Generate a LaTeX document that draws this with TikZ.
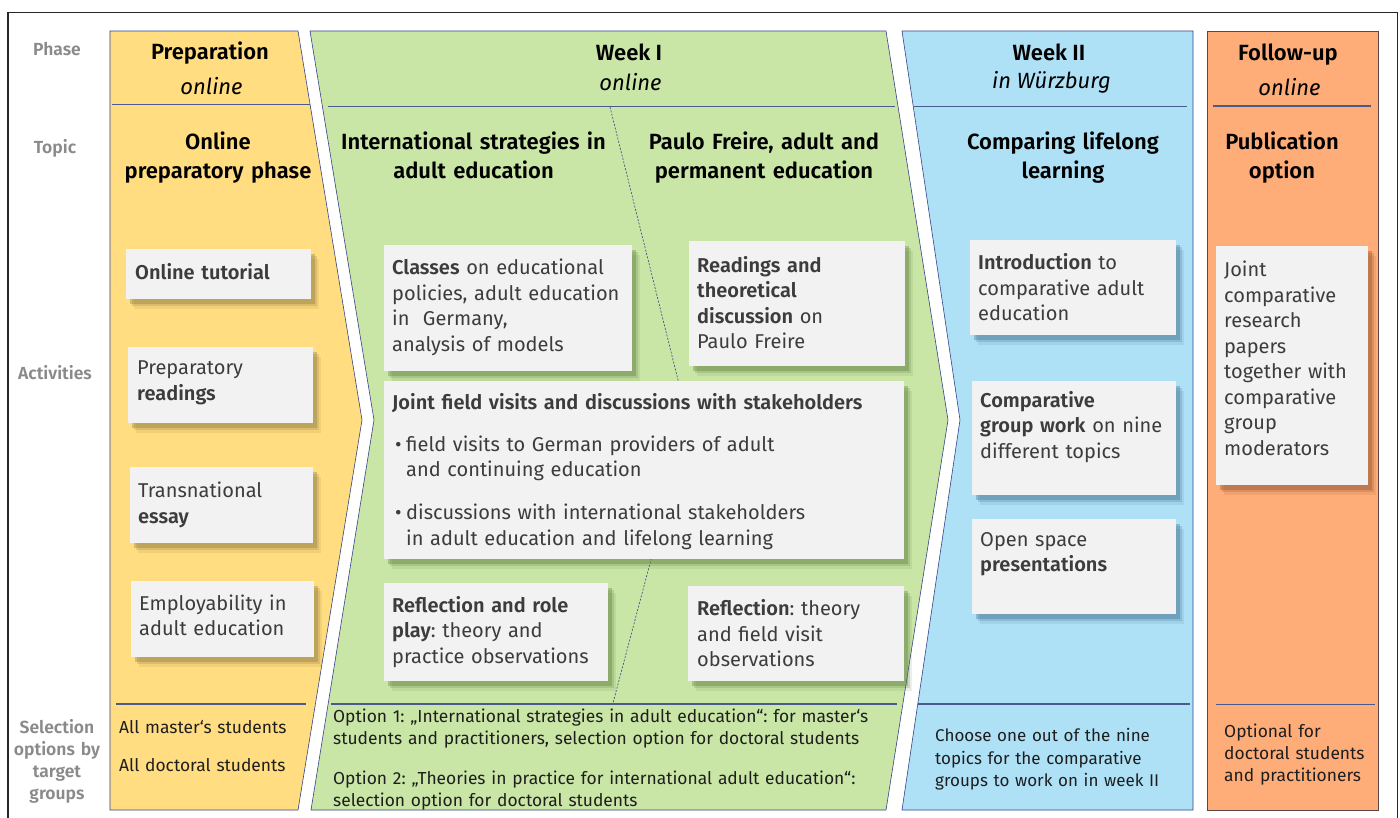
\documentclass[tikz,border=0pt]{standalone}
\usepackage{fontspec}
\IfFontExistsTF{Fira Sans SemiBold}{%
  \setmainfont{Fira Sans}[BoldFont={Fira Sans SemiBold}]
}{%
  \setmainfont{Fira Sans}
}
\frenchspacing
\definecolor{cyel}{HTML}{FFDD80}
\definecolor{cgrn}{HTML}{C9E6A6}
\definecolor{cblu}{HTML}{AEE1F6}
\definecolor{cora}{HTML}{FFAD78}
\definecolor{syel}{HTML}{8C7640}
\definecolor{sgrn}{HTML}{5F8040}
\definecolor{sblu}{HTML}{3F6F8F}
\definecolor{sora}{HTML}{90502A}
\definecolor{boxg}{HTML}{F2F2F2}
\definecolor{edge}{HTML}{34438A}
\definecolor{sepc}{HTML}{4A5A8C}
\definecolor{oedge}{HTML}{5A4646}
\definecolor{txtg}{HTML}{3C3C3C}
\definecolor{lblg}{HTML}{8A8A8A}
\definecolor{seltxt}{HTML}{1E1E1E}
\begin{document}
\frenchspacing
\begin{tikzpicture}[x=1pt,y=-1pt,
  colshape/.style={draw=edge, line width=0.6pt},
  sepline/.style={draw=sepc, line width=1.4pt},
  dline/.style={draw=edge, line width=0.6pt, dash pattern=on 2pt off 1.5pt},
  frame/.style={draw=black!85, line width=1.4pt},
  box/.style={fill=boxg, inner sep=0pt, anchor=north west,
    preaction={fill=#1, opacity=.12, transform canvas={shift={(8,10)}}},
    preaction={fill=#1, opacity=.22, transform canvas={shift={(6,7)}}},
    preaction={fill=#1, opacity=.35, transform canvas={shift={(4,4.5)}}}},
  btxt/.style={anchor=base west, inner sep=0pt, text width=#1, align=left, text=txtg,
    font=\frenchspacing\fontsize{20}{25.5}\selectfont},
  lbl/.style={anchor=base, inner sep=0pt, text=lblg, font=\bfseries\fontsize{17.5}{22}\selectfont,
    text width=95, align=center},
  hd/.style={anchor=base, inner sep=0pt, font=\bfseries\fontsize{22}{29}\selectfont, text=black},
  sub/.style={anchor=base, inner sep=0pt, font=\itshape\fontsize{22}{29}\selectfont, text=black},
  topic/.style={anchor=base, inner sep=0pt, text width=#1, align=center,
    font=\bfseries\fontsize{22}{29}\selectfont, text=black},
  sel/.style={anchor=base west, inner sep=0pt, text width=#1, align=left, text=seltxt,
    font=\frenchspacing\fontsize{17.4}{22.3}\selectfont},
  bsel/.style={anchor=base west, inner sep=0pt, text width=#1, align=left, text=seltxt,
    font=\frenchspacing\fontsize{17}{22.3}\selectfont}
]
\useasboundingbox (0,0) rectangle (1400,817);
\fill[white] (0,0) rectangle (1400,817);
\draw[frame] (8,840) -- (8,12.7) -- (1397.7,12.7) -- (1397.7,840);

% columns
\path[colshape, fill=cyel] (110,31) -- (298,31) -- (362,420) -- (298,810) -- (110,810) -- cycle;
\path[colshape, fill=cgrn] (310,31) -- (886,31) -- (948,420) -- (886,810) -- (311,810) -- (374,420) -- cycle;
\path[colshape, fill=cblu] (902,31) -- (1193,31) -- (1193,810) -- (902,810) -- (960,420) -- cycle;
\path[colshape, draw=oedge, fill=cora] (1207,31) rectangle (1378,810);

% separator lines
\draw[sepline] (112,104.3) -- (310,104.3);
\draw[sepline] (328,106.7) -- (895,106.7);
\draw[sepline] (914,106.7) -- (1187,106.7);
\draw[sepline] (1213,106) -- (1371,106);
\draw[sepline] (116,704) -- (306,704);
\draw[sepline] (331,704) -- (897,704);
\draw[sepline] (918,704) -- (1190,704);
\draw[sepline] (1216,704.3) -- (1375,704.3);

% dashed divider in week I
\coordinate (dv1) at (610,107);
\coordinate (dv2) at (688,420);
\coordinate (dv3) at (613,703);
\draw[dline] (dv1) -- (dv2) -- (dv3);

% row labels
\node[lbl] (lphase) at (57,55) {Phase};
\node[lbl] (ltopic) at (55,153) {Topic};
\node[lbl] (lact) at (55,379) {Activities};
\node[lbl] (lsel) at (57,733) {Selection\\options by\\target\\groups};

% phase headers
\node[hd] (hprep) at (210,59) {Preparation};
\node[sub] (sprep) at (211.5,94.5) {online};
\node[hd] (hw1) at (629,60) {Week I};
\node[sub] (sw1) at (630.5,90) {online};
\node[hd] (hw2) at (1049,60) {Week II};
\node[sub] (sw2) at (1051.5,88.5) {in Würzburg};
\node[hd] (hfu) at (1288,60) {Follow-up};
\node[sub] (sfu) at (1289.5,95.5) {online};

% topics
\node[topic=200] (tprep) at (218,149.5) {Online\\preparatory phase};
\node[topic=290] (tis) at (473.5,149.5) {International strategies in\\adult education};
\node[topic=260] (tpf) at (764,149.5) {Paulo Freire, adult and\\permanent education};
\node[topic=230] (tcl) at (1063,149.5) {Comparing lifelong\\learning};
\node[topic=160] (tpub) at (1282,149.5) {Publication\\option};

% preparation boxes
\node[box=syel, minimum width=185, minimum height=50] (b1) at (126,249) {};
\node[btxt=170] (t1) at (135,279) {\textbf{Online tutorial}};
\node[box=syel, minimum width=185, minimum height=76] (b2) at (128,347) {};
\node[btxt=170] (t2) at (137,374.5) {Preparatory\\\textbf{readings}};
\node[box=syel, minimum width=183, minimum height=76] (b3) at (130,467) {};
\node[btxt=170] (t3) at (138,497.5) {Transnational\\\textbf{essay}};
\node[box=syel, minimum width=183, minimum height=76] (b4) at (131,581) {};
\node[btxt=170] (t4) at (139,610) {Employability in\\adult education};

% week I boxes
\node[box=sgrn, minimum width=248, minimum height=126] (b5) at (384,245) {};
\node[btxt=235] (t5) at (392,274.5) {\textbf{Classes} on educational\\policies, adult education\\in\ \ Germany,\\analysis of models};
\node[box=sgrn, minimum width=216, minimum height=125] (b6) at (689,241) {};
\node[btxt=200] (t6) at (697,272) {\textbf{Readings and}\\\textbf{theoretical}\\\textbf{discussion} on\\Paulo Freire};
\node[box=sgrn, minimum width=520, minimum height=178] (b7) at (384,381) {};
\node[btxt=505] (t7) at (392,409) {\textbf{Joint field visits and discussions with stakeholders}\\[16.5pt]
\hspace*{3pt}\makebox[11pt][l]{•}field visits to German providers of adult\\
\hspace*{14pt}and continuing education\\[17.5pt]
\hspace*{3pt}\makebox[11pt][l]{•}discussions with international stakeholders\\
\hspace*{14pt}in adult education and lifelong learning};
\node[box=sgrn, minimum width=224, minimum height=98] (b8) at (384,583) {};
\node[btxt=215] (t8) at (392,612) {\textbf{Reflection and role}\\\textbf{play}: theory and\\practice observations};
\node[box=sgrn, minimum width=216, minimum height=95] (b9) at (688,586) {};
\node[btxt=200] (t9) at (697,615.5) {\textbf{Reflection}: theory\\and field visit\\observations};

% week II boxes
\node[box=sblu, minimum width=206, minimum height=95] (b10) at (970,240) {};
\node[btxt=195] (t10) at (978,269.5) {\textbf{Introduction} to\\comparative adult\\education};
\node[box=sblu, minimum width=204, minimum height=114] (b11) at (972,381) {};
\node[btxt=195] (t11) at (980,407) {\textbf{Comparative}\\\textbf{group work} on nine\\different topics};
\node[box=sblu, minimum width=204, minimum height=95] (b12) at (972,519) {};
\node[btxt=195] (t12) at (980,546) {Open space\\\textbf{presentations}};

% follow-up box
\node[box=sora, minimum width=152, minimum height=239] (b13) at (1216,246) {};
\node[btxt=145] (t13) at (1224,276.5) {Joint\\comparative\\research\\papers\\together with\\comparative\\group\\moderators};

% selection options
\node[sel=185] (s1) at (119,733) {All master‘s students\\[16pt]All doctoral students};
\node[sel=560] (s2) at (333,722) {Option 1: „International strategies in adult education“: for master‘s\\students and practitioners, selection option for doctoral students\\[18pt]Option 2: „Theories in practice for international adult education“:\\selection option for doctoral students};
\node[bsel=250] (s3) at (935,741.7) {Choose one out of the nine\\topics for the comparative\\groups to work on in week II};
\node[sel=150] (s4) at (1224,737) {Optional for\\doctoral students\\and practitioners};
\end{tikzpicture}
\end{document}
